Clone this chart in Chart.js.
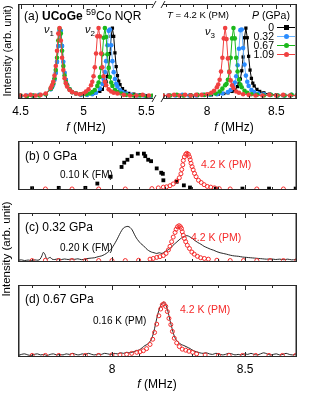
<!DOCTYPE html>
<html>
<head>
<meta charset="utf-8">
<script src="https://cdn.jsdelivr.net/npm/chart.js@4.4.1/dist/chart.umd.min.js"></script>
<style>
  body { margin: 0; background: #fff; }
  #fig { position: relative; width: 314px; height: 393px; overflow: hidden;
         font-family: "Liberation Sans", Arial, sans-serif; color: #000; }
  #fig canvas { position: absolute; }
  .t { position: absolute; white-space: nowrap; line-height: 1; transform: translateY(-50%); }
  .c { transform: translate(-50%, -50%); }
  .r { transform: translate(-100%, -50%); }
  .rot { transform: translate(-50%, -50%) rotate(-90deg); }
  .red { color: #f52a2a; }
  .sw { position: absolute; height: 1px; width: 18px; left: 277px; }
  .mk { position: absolute; width: 5px; height: 5px; left: 283.5px; }
</style>
</head>
<body>
<div id="fig">
  <canvas id="a1" width="160" height="122" style="left:0;top:0"></canvas>
  <canvas id="a2" width="164" height="122" style="left:150px;top:0"></canvas>
  <canvas id="pb" width="314" height="72" style="left:0;top:141px"></canvas>
  <canvas id="pc" width="314" height="72" style="left:0;top:213px"></canvas>
  <canvas id="pd" width="314" height="95" style="left:0;top:285px"></canvas>

  <div class="t" style="left:24px;top:15px;font-size:12px">(a) <b>UCoGe</b> <sup style="font-size:9px">59</sup>Co NQR</div>
  <div class="t" style="left:44px;top:31px;font-size:11px"><i>ν</i><sub style="font-size:8px">1</sub></div>
  <div class="t" style="left:85px;top:31px;font-size:11px"><i>ν</i><sub style="font-size:8px">2</sub></div>
  <div class="t" style="left:205px;top:33px;font-size:11px"><i>ν</i><sub style="font-size:8px">3</sub></div>
  <div class="t" style="left:167px;top:15px;font-size:9.5px"><i>T</i> = 4.2 K (PM)</div>
  <div class="t" style="left:252px;top:15px;font-size:10.5px"><i>P</i> (GPa)</div>
  <div class="t r" style="left:274px;top:27px;font-size:10.5px">0</div>
  <div class="t r" style="left:274px;top:36px;font-size:10.5px">0.32</div>
  <div class="t r" style="left:274px;top:45px;font-size:10.5px">0.67</div>
  <div class="t r" style="left:274px;top:54px;font-size:10.5px">1.09</div>
  <div class="sw" style="top:27px;background:#000"></div>
  <div class="sw" style="top:36px;background:#6ab4ff"></div>
  <div class="sw" style="top:45px;background:#1cb81c"></div>
  <div class="sw" style="top:54px;background:#f04040"></div>
  <div class="mk" style="top:25px;background:#000"></div>
  <div class="mk" style="top:34px;background:#2a8cff;border-radius:50%"></div>
  <div class="mk" style="top:43px;background:#1cb81c;border-radius:50%"></div>
  <div class="mk" style="top:52px;background:#f04040;border-radius:50%"></div>
  <div class="t c" style="left:86px;top:127px;font-size:12px"><i>f</i> (MHz)</div>
  <div class="t c" style="left:234px;top:127px;font-size:12px"><i>f</i> (MHz)</div>
  <div class="t rot" style="left:7px;top:51px;font-size:11px">Intensity (arb. unit)</div>

  <div class="t" style="left:25px;top:156px;font-size:12px">(b) 0 GPa</div>
  <div class="t" style="left:60px;top:175px;font-size:10px">0.10 K (FM)</div>
  <div class="t red" style="left:201px;top:164px;font-size:10.5px">4.2 K (PM)</div>
  <div class="t" style="left:25px;top:227px;font-size:12px">(c) 0.32 GPa</div>
  <div class="t" style="left:60px;top:248px;font-size:10px">0.20 K (FM)</div>
  <div class="t red" style="left:191px;top:237px;font-size:10.5px">4.2 K (PM)</div>
  <div class="t" style="left:25px;top:299px;font-size:12px">(d) 0.67 GPa</div>
  <div class="t" style="left:93px;top:321px;font-size:10px">0.16 K (PM)</div>
  <div class="t red" style="left:180px;top:309px;font-size:10.5px">4.2 K (PM)</div>
  <div class="t rot" style="left:7px;top:249px;font-size:11.5px">Intensity (arb. unit)</div>
  <div class="t c" style="left:157px;top:384px;font-size:12px"><i>f</i> (MHz)</div>
</div>

<script>
const FONT = '"Liberation Sans", Arial, sans-serif';

// (a) 4.2 K spectra, [f (MHz), normalised intensity]
const lowP0 = [[4.50,.02],[4.55,.02],[4.60,.02],[4.65,.03],[4.70,.04],[4.74,.11],[4.75,.14],[4.76,.18],[4.77,.25],[4.78,.35],[4.79,.51],[4.80,.74],[4.81,.96],[4.82,.96],[4.83,.74],[4.84,.51],[4.85,.35],[4.86,.25],[4.87,.18],[4.89,.11],[4.91,.07],[4.94,.05],[4.98,.04],[5.03,.04],[5.08,.05],[5.13,.08],[5.15,.11],[5.17,.17],[5.18,.22],[5.19,.3],[5.20,.43],[5.21,.63],[5.22,.88],[5.23,1.0],[5.24,.88],[5.25,.64],[5.26,.44],[5.27,.31],[5.28,.23],[5.29,.18],[5.31,.12],[5.33,.08],[5.36,.05],[5.40,.04],[5.45,.03],[5.50,.02],[5.55,.02]];
const lowP032 = [[4.50,.01],[4.55,.02],[4.60,.02],[4.65,.03],[4.70,.04],[4.74,.11],[4.75,.14],[4.76,.18],[4.77,.25],[4.78,.35],[4.79,.51],[4.80,.74],[4.81,.96],[4.82,.96],[4.83,.74],[4.84,.51],[4.85,.35],[4.86,.25],[4.87,.18],[4.89,.11],[4.91,.07],[4.94,.05],[4.98,.03],[5.03,.03],[5.07,.04],[5.10,.06],[5.13,.12],[5.15,.19],[5.16,.26],[5.17,.36],[5.18,.52],[5.19,.75],[5.20,.96],[5.21,.98],[5.22,.75],[5.23,.52],[5.24,.36],[5.25,.26],[5.26,.19],[5.27,.15],[5.29,.1],[5.31,.07],[5.34,.05],[5.38,.03],[5.43,.02],[5.48,.02],[5.53,.01]];
const lowP067 = [[4.50,.02],[4.55,.01],[4.60,.02],[4.65,.02],[4.70,.04],[4.74,.12],[4.75,.15],[4.76,.2],[4.77,.27],[4.78,.39],[4.79,.57],[4.80,.82],[4.81,.99],[4.82,.92],[4.83,.67],[4.84,.45],[4.85,.31],[4.86,.22],[4.87,.17],[4.89,.11],[4.91,.07],[4.94,.05],[4.98,.04],[5.02,.04],[5.05,.05],[5.07,.07],[5.09,.1],[5.11,.16],[5.12,.21],[5.13,.29],[5.14,.42],[5.15,.62],[5.16,.86],[5.17,1.0],[5.18,.87],[5.19,.62],[5.20,.42],[5.21,.29],[5.22,.21],[5.23,.16],[5.25,.1],[5.27,.07],[5.30,.05],[5.34,.03],[5.40,.02],[5.45,.02],[5.50,.01],[5.55,.02]];
const lowP109 = [[4.50,.02],[4.54,.02],[4.58,.03],[4.62,.02],[4.66,.03],[4.70,.05],[4.74,.13],[4.75,.17],[4.76,.22],[4.77,.31],[4.78,.45],[4.79,.67],[4.80,.92],[4.81,1.0],[4.82,.82],[4.83,.57],[4.84,.39],[4.85,.27],[4.86,.2],[4.87,.15],[4.89,.1],[4.91,.07],[4.94,.05],[4.97,.04],[5.00,.05],[5.02,.08],[5.04,.11],[5.06,.17],[5.07,.22],[5.08,.3],[5.09,.43],[5.10,.63],[5.11,.88],[5.12,1.0],[5.13,.88],[5.14,.63],[5.15,.43],[5.16,.3],[5.17,.22],[5.18,.17],[5.20,.11],[5.22,.08],[5.24,.06],[5.27,.05],[5.32,.03],[5.37,.02],[5.42,.02],[5.47,.03],[5.52,.02]];

const highP0 = [[7.68,.02],[7.73,.02],[7.78,.03],[7.83,.02],[7.88,.03],[7.93,.02],[7.98,.03],[8.03,.03],[8.08,.04],[8.12,.05],[8.15,.06],[8.18,.08],[8.20,.1],[8.22,.15],[8.23,.19],[8.24,.26],[8.25,.38],[8.26,.58],[8.27,.86],[8.28,1.0],[8.29,.86],[8.30,.59],[8.31,.39],[8.32,.27],[8.33,.2],[8.34,.16],[8.36,.11],[8.38,.08],[8.41,.06],[8.45,.04],[8.50,.03],[8.55,.02],[8.60,.02],[8.65,.02]];
const highP032 = [[7.68,.02],[7.72,.02],[7.77,.02],[7.82,.03],[7.87,.02],[7.92,.02],[7.97,.03],[8.02,.03],[8.07,.04],[8.11,.05],[8.15,.07],[8.17,.1],[8.19,.16],[8.20,.21],[8.21,.3],[8.22,.46],[8.23,.7],[8.24,.97],[8.25,.98],[8.26,.71],[8.27,.47],[8.28,.31],[8.29,.22],[8.30,.16],[8.32,.1],[8.34,.07],[8.37,.05],[8.41,.04],[8.46,.03],[8.51,.02],[8.56,.02],[8.61,.03],[8.65,.02]];
const highP067 = [[7.68,.02],[7.73,.02],[7.78,.03],[7.83,.02],[7.88,.02],[7.93,.03],[7.98,.03],[8.02,.04],[8.06,.05],[8.09,.08],[8.11,.12],[8.13,.17],[8.14,.19],[8.15,.25],[8.16,.37],[8.17,.57],[8.18,.85],[8.19,1.0],[8.20,.85],[8.21,.57],[8.22,.37],[8.23,.25],[8.24,.18],[8.25,.14],[8.27,.09],[8.29,.06],[8.32,.04],[8.36,.03],[8.41,.02],[8.46,.03],[8.51,.02],[8.56,.02],[8.61,.03],[8.65,.02]];
const highP109 = [[7.68,.02],[7.72,.02],[7.76,.03],[7.80,.02],[7.84,.03],[7.88,.02],[7.92,.03],[7.96,.03],[8.00,.04],[8.03,.06],[8.05,.09],[8.07,.14],[8.08,.18],[8.09,.25],[8.10,.37],[8.11,.57],[8.12,.85],[8.13,1.0],[8.14,.84],[8.15,.56],[8.16,.36],[8.17,.24],[8.18,.17],[8.19,.13],[8.21,.08],[8.23,.06],[8.26,.04],[8.30,.03],[8.35,.02],[8.40,.02],[8.45,.03],[8.50,.02],[8.55,.03],[8.60,.02],[8.65,.02]];

// (b) 0 GPa
const bLowT = [[7.70,.03],[7.80,.04],[7.90,.04],[7.945,.16],[7.995,.35],[8.036,.62],[8.046,.74],[8.058,.82],[8.074,.92],[8.097,.99],[8.120,.99],[8.125,.92],[8.136,.82],[8.147,.78],[8.168,.58],[8.185,.46],[8.191,.43],[8.193,.25],[8.243,.21],[8.270,.11],[8.293,.05],[8.39,.02],[8.49,.02],[8.59,.02],[8.69,.02]];
const bHighT = [[7.75,.01],[7.85,.01],[7.95,.01],[8.05,.01],[8.15,.02],[8.174,.04],[8.193,.06],[8.205,.07],[8.218,.1],[8.23,.15],[8.243,.23],[8.253,.32],[8.259,.43],[8.262,.55],[8.266,.68],[8.268,.80],[8.272,.90],[8.277,.97],[8.281,1.0],[8.287,.97],[8.291,.90],[8.294,.82],[8.297,.72],[8.301,.63],[8.305,.54],[8.31,.44],[8.316,.35],[8.325,.25],[8.335,.19],[8.346,.13],[8.358,.08],[8.371,.06],[8.385,.04],[8.403,.02],[8.444,.01],[8.544,.01],[8.644,.01]];

// (c) 0.32 GPa
const cLowT = [[7.648,.03],[7.66,.04],[7.672,.02],[7.685,.035],[7.698,.02],[7.71,.04],[7.722,.03],[7.73,.06],[7.737,.16],[7.742,.25],[7.748,.2],[7.755,.06],[7.762,.09],[7.768,.11],[7.775,.06],[7.785,.05],[7.798,.07],[7.81,.05],[7.822,.065],[7.835,.05],[7.848,.065],[7.86,.055],[7.872,.07],[7.885,.045],[7.897,.06],[7.91,.08],[7.922,.09],[7.935,.1],[7.948,.13],[7.96,.15],[7.972,.19],[7.984,.25],[7.995,.33],[8.004,.42],[8.012,.52],[8.02,.63],[8.028,.75],[8.036,.86],[8.044,.94],[8.052,.97],[8.06,.98],[8.068,.95],[8.076,.88],[8.084,.76],[8.092,.65],[8.1,.57],[8.108,.5],[8.118,.44],[8.128,.36],[8.138,.3],[8.148,.26],[8.158,.24],[8.168,.22],[8.178,.24],[8.188,.22],[8.198,.27],[8.208,.31],[8.218,.36],[8.228,.44],[8.24,.52],[8.252,.6],[8.262,.66],[8.272,.7],[8.282,.72],[8.292,.69],[8.302,.64],[8.312,.58],[8.322,.53],[8.334,.48],[8.346,.42],[8.358,.38],[8.37,.34],[8.382,.31],[8.394,.27],[8.406,.24],[8.418,.22],[8.43,.2],[8.445,.17],[8.46,.15],[8.475,.14],[8.49,.12],[8.505,.11],[8.52,.1],[8.535,.09],[8.55,.08],[8.565,.07],[8.58,.06],[8.6,.065],[8.615,.05],[8.63,.06],[8.645,.045],[8.66,.06],[8.675,.04],[8.69,.05]];
const cHighT = [[7.70,.02],[7.75,.03],[7.80,.02],[7.85,.02],[7.90,.02],[7.95,.02],[8.00,.02],[8.05,.02],[8.10,.03],[8.143,.06],[8.155,.08],[8.168,.11],[8.18,.13],[8.193,.16],[8.203,.22],[8.212,.32],[8.218,.42],[8.224,.55],[8.23,.68],[8.237,.81],[8.241,.90],[8.246,.97],[8.252,1.0],[8.257,.97],[8.261,.92],[8.264,.83],[8.268,.73],[8.272,.64],[8.277,.55],[8.283,.45],[8.291,.36],[8.30,.26],[8.309,.2],[8.321,.14],[8.333,.1],[8.347,.08],[8.362,.06],[8.394,.03],[8.444,.02],[8.494,.02],[8.544,.02],[8.594,.02],[8.644,.02],[8.694,.02]];

// (d) 0.67 GPa
const dLowT = [[7.648,.01],[7.66,.03],[7.672,.04],[7.684,.02],[7.696,.01],[7.708,.03],[7.72,.04],[7.732,.02],[7.744,.03],[7.756,.01],[7.768,.03],[7.78,.04],[7.792,.02],[7.804,.03],[7.816,.02],[7.828,.04],[7.84,.03],[7.852,.05],[7.864,.03],[7.876,.02],[7.888,.04],[7.9,.03],[7.912,.05],[7.924,.03],[7.936,.02],[7.948,.04],[7.96,.03],[7.972,.05],[7.984,.04],[7.996,.03],[8.008,.05],[8.02,.04],[8.032,.06],[8.044,.05],[8.056,.07],[8.068,.06],[8.08,.08],[8.092,.1],[8.104,.12],[8.114,.16],[8.124,.2],[8.132,.22],[8.14,.26],[8.148,.32],[8.156,.44],[8.164,.62],[8.172,.8],[8.18,.93],[8.188,1.01],[8.195,1.03],[8.202,.98],[8.21,.86],[8.218,.68],[8.226,.52],[8.234,.38],[8.242,.3],[8.25,.26],[8.26,.22],[8.27,.2],[8.282,.17],[8.294,.14],[8.306,.1],[8.318,.08],[8.33,.06],[8.342,.05],[8.354,.06],[8.366,.04],[8.378,.03],[8.39,.05],[8.402,.04],[8.414,.02],[8.426,.03],[8.438,.05],[8.45,.04],[8.462,.02],[8.474,.03],[8.486,.02],[8.498,.04],[8.51,.03],[8.522,.05],[8.534,.03],[8.546,.02],[8.558,.04],[8.57,.06],[8.582,.04],[8.594,.02],[8.606,.03],[8.618,.04],[8.63,.02],[8.642,.03],[8.654,.05],[8.666,.03],[8.678,.02],[8.69,.03]];
const dHighT = [[7.70,.01],[7.75,.01],[7.80,.01],[7.85,.01],[7.90,.01],[7.95,.01],[8.00,.02],[8.03,.02],[8.055,.03],[8.074,.05],[8.093,.07],[8.105,.08],[8.118,.1],[8.13,.14],[8.143,.22],[8.153,.32],[8.16,.45],[8.168,.61],[8.176,.77],[8.183,.9],[8.189,.98],[8.195,1.0],[8.202,.95],[8.208,.85],[8.214,.72],[8.221,.6],[8.227,.47],[8.234,.34],[8.243,.25],[8.253,.18],[8.264,.13],[8.277,.11],[8.289,.09],[8.303,.07],[8.318,.04],[8.35,.02],[8.40,.01],[8.44,.01],[8.49,.01],[8.54,.01],[8.59,.01],[8.64,.01],[8.69,.01]];

// ticks
const lowMajor = [4.5, 5, 5.5];
const lowMinor = [4.6, 4.7, 4.8, 4.9, 5.1, 5.2, 5.3, 5.4];
const highMajor = [8, 8.5];
const highMinor = [7.7, 7.8, 7.9, 8.1, 8.2, 8.3, 8.4, 8.6, 8.7];

// box, inward ticks and axis-break marks, drawn from the x scale
function framePlugin(o) {
  return {
    id: 'frame',
    afterDraw(chart) {
      const { ctx } = chart;
      const sx = chart.scales.x;
      const a = chart.chartArea;
      const left = Math.round(a.left), right = Math.round(a.right);
      const top = Math.round(a.top), bottom = Math.round(a.bottom);
      ctx.save();
      ctx.fillStyle = '#2a2a2a';
      ctx.fillRect(left, top, right - left, 1);
      ctx.fillRect(left, bottom - 1, right - left, 1);
      if (o.boxL) ctx.fillRect(left, top, 1.5, bottom - top);
      if (o.boxR) ctx.fillRect(right - 1.5, top, 1.5, bottom - top);

      ctx.strokeStyle = '#2a2a2a';
      ctx.lineWidth = 1;
      ctx.beginPath();
      const T = top + 0.5, B = bottom - 0.5;
      const tick = (v, len) => {
        if (v < sx.min || v > sx.max) return;
        const px = Math.round(sx.getPixelForValue(v)) + 0.5;
        ctx.moveTo(px, B); ctx.lineTo(px, B - len);
        ctx.moveTo(px, T); ctx.lineTo(px, T + len);
      };
      o.major.forEach(v => tick(v, 4.5));
      o.minor.forEach(v => tick(v, 2.5));
      [T, B].forEach(y => {
        if (o.breakR) { ctx.moveTo(right - 1, y + 3.5); ctx.lineTo(right + 3, y - 3.5); }
        if (o.breakL) { ctx.moveTo(left - 2, y + 3.5); ctx.lineTo(left + 2, y - 3.5); }
      });
      ctx.stroke();
      ctx.restore();
    }
  };
}

function xAxis(min, max, labels, show) {
  return {
    type: 'linear', min, max, display: show,
    grid: { display: false, drawTicks: false },
    border: { display: false },
    afterBuildTicks: s => { s.ticks = labels.map(v => ({ value: v })); },
    afterFit: s => { s.height = 23; },
    ticks: { padding: 5, color: '#000', autoSkip: false, maxRotation: 0,
             font: { size: 12, family: FONT }, callback: v => String(v) }
  };
}

function yAxis(min, max) {
  return { type: 'linear', min, max, display: false };
}

function makeChart(id, datasets, x, y, pad, fr) {
  new Chart(document.getElementById(id), {
    type: 'scatter',
    data: { datasets },
    options: {
      responsive: false, animation: false, events: [],
      layout: { padding: pad, autoPadding: false },
      scales: { x, y },
      plugins: { legend: { display: false }, tooltip: { enabled: false } }
    },
    plugins: [framePlugin(fr)]
  });
}

const BLACK = '#000', BLUE = '#2a8cff', GREEN = '#1cb81c', RED = '#f04040';

function spec(data, color, shape, lineColor) {
  return { data, showLine: true, borderColor: lineColor || color, borderWidth: 1,
           pointStyle: shape, pointRadius: 2.3, pointBackgroundColor: color,
           pointBorderColor: color, pointBorderWidth: 0 };
}

// red listed first so it is drawn on top
makeChart('a1', [
  spec(lowP109, RED, 'circle'), spec(lowP067, GREEN, 'circle'),
  spec(lowP032, BLUE, 'circle', '#6ab4ff'), spec(lowP0, BLACK, 'rect')
], xAxis(4.48, 5.55, lowMajor, true), yAxis(-0.03, 1.35),
  { left: 18, right: 5, top: 4, bottom: 0 },
  { boxL: true, boxR: false, breakR: true, major: lowMajor, minor: lowMinor });

makeChart('a2', [
  spec(highP109, RED, 'circle'), spec(highP067, GREEN, 'circle'),
  spec(highP032, BLUE, 'circle', '#6ab4ff'), spec(highP0, BLACK, 'rect')
], xAxis(7.68, 8.65, highMajor, true), yAxis(-0.03, 1.35),
  { left: 13, right: 17, top: 4, bottom: 0 },
  { boxL: false, boxR: true, breakL: true, major: highMajor, minor: highMinor });

function openCircles(data) {
  return { data, showLine: false, pointStyle: 'circle', pointRadius: 2,
           pointBorderColor: '#f52a2a', pointBackgroundColor: 'rgba(0,0,0,0)', pointBorderWidth: 1 };
}
function trace(data) {
  return { data, showLine: true, borderColor: '#111', borderWidth: 0.9, pointRadius: 0, tension: 0.3 };
}
const boxFrame = { boxL: true, boxR: true, major: highMajor, minor: highMinor };

makeChart('pb', [
  openCircles(bHighT),
  { data: bLowT, showLine: false, pointStyle: 'rect', pointRadius: 2.7, pointBackgroundColor: '#000', pointBorderWidth: 0 }
], xAxis(7.647, 8.695, highMajor, false), yAxis(-0.019, 1.34),
  { left: 18, right: 17, top: 0, bottom: 0 }, boxFrame);

makeChart('pc', [openCircles(cHighT), trace(cLowT)],
  xAxis(7.647, 8.695, highMajor, false), yAxis(-0.02, 1.357),
  { left: 18, right: 17, top: 0, bottom: 0 }, boxFrame);

makeChart('pd', [openCircles(dHighT), trace(dLowT)],
  xAxis(7.647, 8.695, highMajor, true), yAxis(-0.02, 1.36),
  { left: 18, right: 17, top: 0, bottom: 0 }, boxFrame);
</script>
</body>
</html>
